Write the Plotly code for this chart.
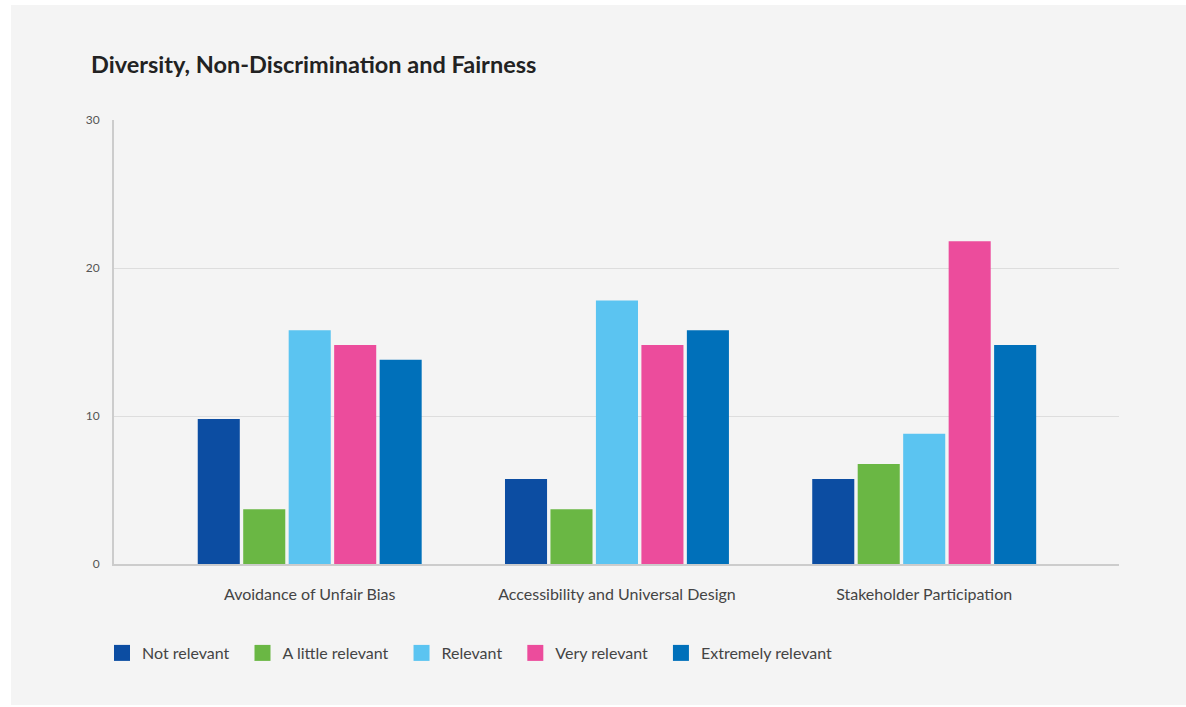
import plotly.graph_objects as go

categories = ["Avoidance of Unfair Bias", "Accessibility and Universal Design", "Stakeholder Participation"]
series_names = ["Not relevant", "A little relevant", "Relevant", "Very relevant", "Extremely relevant"]
not_relevant = [9.8, 5.75, 5.75]
a_little_relevant = [3.7, 3.7, 6.75]
relevant = [15.8, 17.8, 8.8]
very_relevant = [14.8, 14.8, 21.8]
extremely_relevant = [13.8, 15.8, 14.8]
y_ticks = [0, 10, 20, 30]

colors = ["#0c4da2", "#6ab744", "#5bc4f1", "#ec4c9c", "#0070ba"]
values = [not_relevant, a_little_relevant, relevant, very_relevant, extremely_relevant]

FONT = "Lato"
fig = go.Figure()
for name, vals, col in zip(series_names, values, colors):
    fig.add_trace(go.Bar(x=categories, y=vals, name=name, marker_color=col,
                         marker_line_width=0, showlegend=False, hoverinfo="y"))
for i, (name, col) in enumerate(zip(series_names, colors)):
    pad = "\u00a0\u00a0" if i < len(series_names) - 1 else ""
    fig.add_trace(go.Scatter(x=[None], y=[None], mode="markers", name=name + pad,
                             marker=dict(symbol="square", size=16, color=col)))

L, R, T, B = 114, 67, 120, 143
W, H = 1186, 707
pw, ph = W - L - R, H - T - B

def px_x(px):
    return (px - L) / pw

def px_y(py):
    return (H - B - py) / ph

fig.add_shape(type="rect", xref="paper", yref="paper", layer="below",
              x0=px_x(11), x1=px_x(1190), y0=px_y(705), y1=px_y(5),
              fillcolor="#f4f4f4", line_width=0)

fig.update_layout(
    width=W, height=H,
    margin=dict(l=L, r=R, t=T, b=B),
    paper_bgcolor="#ffffff",
    plot_bgcolor="#f4f4f4",
    barmode="group",
    bargap=0.26,
    bargroupgap=0.075,
    font=dict(family=FONT, color="#444444"),
    title=dict(text="<b>Diversity, Non-Discrimination and Fairness</b>",
               x=91 / W, xanchor="left", y=1 - 65 / H, yanchor="middle",
               font=dict(size=23.5, color="#222222", family=FONT)),
    xaxis=dict(range=[-0.637, 2.634], showline=True, linecolor="#cccccc", linewidth=2,
               showgrid=False, ticks="", ticklabelstandoff=15,
               tickfont=dict(size=16, color="#444444", family=FONT), fixedrange=True),
    yaxis=dict(range=[0, 30], tickvals=y_ticks, showline=True, linecolor="#cccccc",
               linewidth=2, showgrid=True, gridcolor="#dddddd", gridwidth=1,
               zeroline=False, ticks="", ticklabelstandoff=10,
               tickfont=dict(size=12, color="#555555", family=FONT), fixedrange=True),
    legend=dict(orientation="h", x=px_x(102), xanchor="left", y=px_y(653), yanchor="middle",
                font=dict(size=16, color="#444444", family=FONT), bgcolor="rgba(0,0,0,0)",
                itemclick=False, itemdoubleclick=False),
    showlegend=True,
)

fig.write_html("out.html")
